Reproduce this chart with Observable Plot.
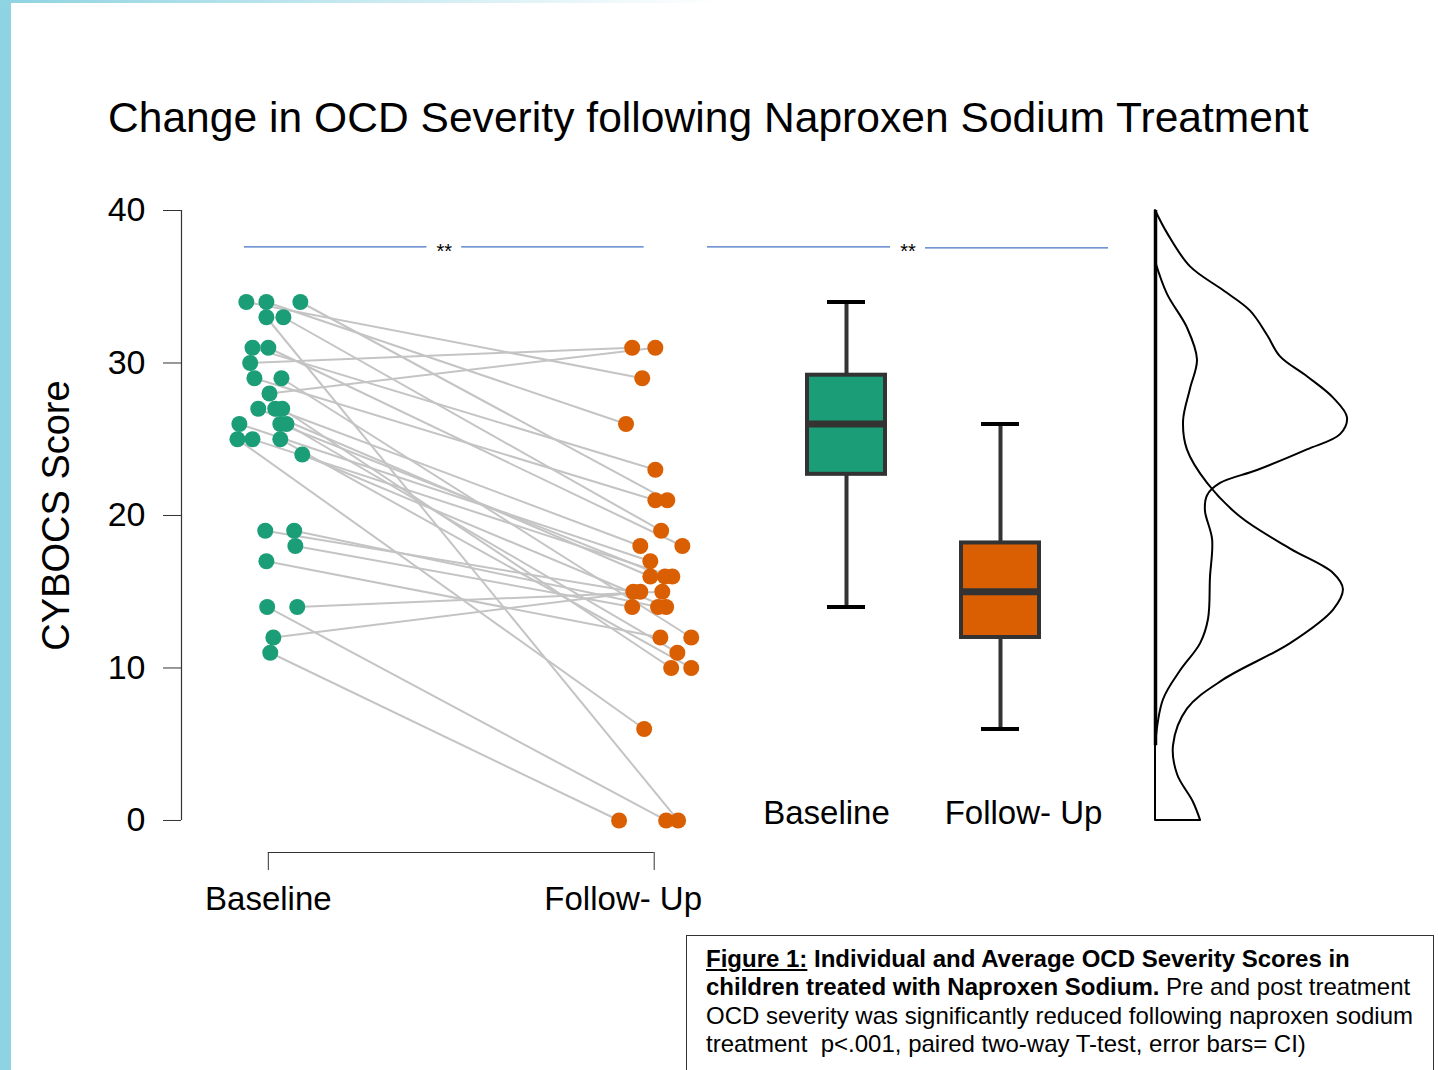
<!DOCTYPE html>
<html>
<head>
<meta charset="utf-8">
<script src="https://cdn.jsdelivr.net/npm/d3@7"></script>
<script src="https://cdn.jsdelivr.net/npm/@observablehq/plot@0.6"></script>
<style>
  html, body { margin: 0; padding: 0; background: #fff; overflow: hidden; }
  #page { position: relative; width: 1438px; height: 1070px; overflow: hidden;
          font-family: "Liberation Sans", Arial, sans-serif; color: #000; }
  #edge { position: absolute; left: 0; top: 0; width: 11px; height: 1070px; background: #8ed3e1; }
  #topband { position: absolute; left: 0; top: 0; width: 720px; height: 3px;
             background: linear-gradient(to right, #8ed3e1, #ffffff); }
  #title { position: absolute; left: 108px; top: 92px; font-size: 42.5px; line-height: 1.2;
           white-space: nowrap; letter-spacing: 0.05px; }
  .panel { position: absolute; top: 160px; }
  #caption { position: absolute; left: 686px; top: 935px; width: 748px; height: 150px;
             box-sizing: border-box; border: 1.5px solid #333; padding: 9px 0 0 19px;
             font-size: 24px; line-height: 28.3px; white-space: nowrap; }
  #caption u, #caption b { font-weight: bold; }
</style>
</head>
<body>
<div id="page">
  <div id="edge"></div>
  <div id="topband"></div>
  <div id="title">Change in OCD Severity following Naproxen Sodium Treatment</div>
  <div id="pairs" class="panel" style="left:0px"></div>
  <div id="boxes" class="panel" style="left:705px"></div>
  <div id="density" class="panel" style="left:1130px"></div>
  <div id="caption">
    <b><u>Figure 1:</u> Individual and Average OCD Severity Scores in</b><br>
    <b>children treated with Naproxen Sodium.</b> Pre and post treatment<br>
    OCD severity was significantly reduced following naproxen sodium<br>
    treatment&nbsp; p&lt;.001, paired two-way T-test, error bars= CI)
  </div>
</div>
<script>
// ---- data -------------------------------------------------------------
const timeLabels = ["Baseline", "Follow- Up"];
const timeColors = ["#1b9e77", "#d95f02"];

// CY-BOCS score of each child, before and after treatment (same order)
const baselineScores = [34, 34, 34, 33, 33, 31, 31, 30, 29, 29, 28, 27, 27, 27, 26,
                        26, 26, 25, 25, 25, 24, 19, 19, 18, 17, 14, 14, 12, 11];
const followUpScores = [29, 26, 21, 0, 19, 23, 18, 31, 21, 12, 31, 16, 18, 10, 17,
                        16, 11, 6, 16, 10, 14, 15, 14, 14, 12, 0, 15, 15, 0];
// horizontal jitter of each dot (in category units)
const baselineJitter = [-0.057, -0.005, 0.083, -0.005, 0.039, -0.041, 0.000, -0.047, -0.036, 0.034,
                        0.003, -0.026, 0.018, 0.036, -0.075, 0.031, 0.047, -0.080, -0.041, 0.031,
                        0.088, -0.008, 0.067, 0.070, -0.005, -0.003, 0.075, 0.013, 0.005];
const followUpJitter = [-0.031, -0.073, 0.034, 0.062, 0.018, 0.003, 0.073, -0.057, 0.003, 0.096,
                        0.003, -0.010, -0.036, 0.044, -0.010, 0.028, 0.060, -0.026, 0.047, 0.096,
                        0.031, -0.054, 0.010, -0.057, 0.016, 0.031, 0.021, -0.036, -0.091];

// box summaries: whisker low, lower hinge, median, upper hinge, whisker high
const boxLow    = [14, 6];
const boxQ1     = [22.7, 12.0];
const boxMedian = [26, 15];
const boxQ3     = [29.2, 18.2];
const boxHigh   = [34, 26];

// density profiles of the two time points
const baselineDensityScore = [40, 38.5, 36.3, 34.75, 33.4, 31.8, 30.4, 29.1, 27.7, 26.4, 25.3, 24.3,
                              22.95, 22.1, 21.3, 20.3, 18.4, 15.9, 13.2, 11.6, 9.8, 7.9, 4.9];
const baselineDensity      = [0, 0.005, 0.0146, 0.0283, 0.0396, 0.0467, 0.0521, 0.0633, 0.0742, 0.080,
                              0.0771, 0.0633, 0.0425, 0.0271, 0.0217, 0.0208, 0.0238, 0.0229, 0.0221,
                              0.0188, 0.0104, 0.0033, 0];
const followUpDensityScore = [36.66, 34.5, 32.3, 30.2, 28.3, 26.2, 24.3, 22.1, 19.9, 17.8, 16.2, 15.15,
                              13.8, 11.6, 9.2, 7.3, 4.9, 3.0, 1.2, 0];
const followUpDensity      = [0, 0.005, 0.0133, 0.0175, 0.0146, 0.0117, 0.0133, 0.0217, 0.0354, 0.0563,
                              0.0742, 0.0783, 0.0742, 0.0563, 0.0283, 0.0133, 0.0075, 0.0092, 0.0158, 0.0188];

const significance = "**";
const sigScore = 37.62;

// ---- shared layout ----------------------------------------------------
const H = 770;
const font = "'Liberation Sans', Arial, sans-serif";
const sigBlue = "#4472c4";
const axisGray = "#333";
const baseStyle = {fontFamily: font, background: "transparent", color: "#000", overflow: "visible"};

// ---- paired dot plot ----------------------------------------------------
const subjects = baselineScores.map((b, i) => ({
  baseline: b, followUp: followUpScores[i],
  xb: 1 + baselineJitter[i], xf: 2 + followUpJitter[i]
}));
const yFloor = -2.1;            // space between the zero line and the x axis
const xDom = [0.775, 2.12];
const sigSpan = [0.938, 1.974];
const sigGap = 0.045;
const sigMid = (sigSpan[0] + sigSpan[1]) / 2;
const sigSegments = [
  {x1: sigSpan[0], x2: sigMid - sigGap},
  {x1: sigMid + sigGap, x2: sigSpan[1]}
];

const pairs = Plot.plot({
  width: 705, height: H,
  marginLeft: 181, marginRight: 5, marginTop: 50, marginBottom: 78,
  x: {domain: xDom},
  y: {domain: [yFloor, 40]},
  style: baseStyle,
  marks: [
    Plot.ruleX([xDom[0]], {y1: 0, y2: 40, stroke: axisGray, strokeWidth: 1.2}),
    Plot.axisY({ticks: [0, 10, 20, 30, 40], tickSize: 18, tickPadding: 18, fontSize: 34,
                stroke: axisGray, label: null}),
    Plot.text(["CYBOCS Score"], {frameAnchor: "left", textAnchor: "middle", rotate: -90,
                                 dx: -125, dy: -16, fontSize: 38}),
    Plot.ruleY([yFloor], {x1: 1, x2: 2, stroke: axisGray, strokeWidth: 1.2}),
    Plot.axisX({ticks: [1, 2], tickSize: 18, tickFormat: () => "", stroke: axisGray, label: null}),
    Plot.text([timeLabels[0]], {x: 1, frameAnchor: "bottom", dy: 57, fontSize: 33}),
    Plot.text([timeLabels[1]], {x: 2, frameAnchor: "bottom", dy: 57, dx: -31, fontSize: 33}),
    Plot.ruleY(sigSegments, {x1: "x1", x2: "x2", y: () => sigScore, stroke: sigBlue, strokeWidth: 1.2}),
    Plot.text([significance], {x: sigMid, y: sigScore, dy: 5, fontSize: 20}),
    Plot.link(subjects, {x1: "xb", y1: "baseline", x2: "xf", y2: "followUp",
                         stroke: "#c4c4c4", strokeWidth: 2}),
    Plot.dot(subjects, {x: "xb", y: "baseline", r: 8, fill: timeColors[0]}),
    Plot.dot(subjects, {x: "xf", y: "followUp", r: 8, fill: timeColors[1]})
  ]
});
document.getElementById("pairs").append(pairs);

// ---- box plots ----------------------------------------------------------
const summary = timeLabels.map((t, i) => ({
  time: t, lo: boxLow[i], q1: boxQ1[i], median: boxMedian[i], q3: boxQ3[i], hi: boxHigh[i], color: timeColors[i]
}));
const boxW = 425, boxML = 2, boxMR = 22;
const sigInset = (boxW - boxML - boxMR) / 2 + 17.5;

const boxes = Plot.plot({
  width: boxW, height: H,
  marginLeft: boxML, marginRight: boxMR, marginTop: 50, marginBottom: 110,
  x: {type: "band", domain: timeLabels, paddingInner: 0.495, paddingOuter: 0.545, align: 0.588, axis: null},
  y: {domain: [0, 40], axis: null},
  color: {type: "identity"},
  style: baseStyle,
  marks: [
    Plot.ruleY([sigScore], {insetRight: sigInset, stroke: sigBlue, strokeWidth: 1.2}),
    Plot.ruleY([sigScore], {insetLeft: sigInset, stroke: sigBlue, strokeWidth: 1.2, dy: 1}),
    Plot.text([significance], {y: sigScore, dy: 5, fontSize: 20}),
    Plot.ruleX(summary, {x: "time", y1: "lo", y2: "hi", stroke: axisGray, strokeWidth: 4}),
    Plot.tickY(summary, {x: "time", y: "lo", stroke: "#000", strokeWidth: 4, insetLeft: 20, insetRight: 20}),
    Plot.tickY(summary, {x: "time", y: "hi", stroke: "#000", strokeWidth: 4, insetLeft: 20, insetRight: 20}),
    Plot.barY(summary, {x: "time", y1: "q1", y2: "q3", fill: "color", stroke: axisGray, strokeWidth: 4}),
    Plot.tickY(summary, {x: "time", y: "median", stroke: axisGray, strokeWidth: 7}),
    Plot.text([summary[0]], {x: "time", y: 0, text: "time", dx: -20, dy: -7, fontSize: 33}),
    Plot.text([summary[1]], {x: "time", y: 0, text: "time", dx: 23, dy: -7, fontSize: 33})
  ]
});
document.getElementById("boxes").append(boxes);

// ---- density profiles ----------------------------------------------------
const baselineCurve = baselineDensityScore.map((s, i) => ({score: s, density: baselineDensity[i]}));
const followUpCurve = followUpDensityScore.map((s, i) => ({score: s, density: followUpDensity[i]}));

const density = Plot.plot({
  width: 308, height: H,
  marginLeft: 25, marginRight: 91, marginTop: 50, marginBottom: 110,
  x: {domain: [0, 0.08], axis: null},
  y: {domain: [0, 40], axis: null},
  style: baseStyle,
  marks: [
    Plot.ruleX([0], {y1: d3.min(baselineDensityScore), y2: d3.max(baselineDensityScore),
                     stroke: "#000", strokeWidth: 3.5}),
    Plot.areaX(baselineCurve, {y: "score", x1: 0, x2: "density", fill: "none", stroke: "#000",
                               strokeWidth: 2, curve: "catmull-rom"}),
    Plot.areaX(followUpCurve, {y: "score", x1: 0, x2: "density", fill: "none", stroke: "#000",
                               strokeWidth: 2, curve: "catmull-rom"})
  ]
});
document.getElementById("density").append(density);
</script>
</body>
</html>
